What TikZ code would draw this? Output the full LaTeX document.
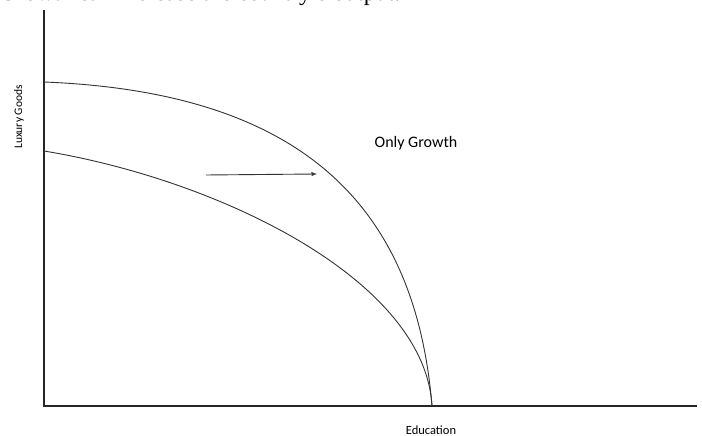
\documentclass[tikz,border=0pt]{standalone}
\usepackage{fontspec}
\setmainfont{Liberation Serif}
\newfontfamily\labelfont{Carlito}
\tikzset{
	axis/.style={draw=black!85,line width=1.3pt},
	ppf/.style={draw=black!80,line width=0.9pt},
	lbl/.style={inner sep=0pt,font=\labelfont\fontsize{12.5}{14}\selectfont}
}
\begin{document}
\begin{tikzpicture}[x=1pt,y=1pt]
			\useasboundingbox (0,0) rectangle (702,436);
			\node[anchor=base west,inner sep=0pt,font=\fontsize{24}{28}\selectfont] at (-1,435.8) (title) {Growth can increase the country's output.};
			% axes
			\coordinate (o) at (44,30);
			\coordinate (ytop) at (44,426);
			\coordinate (xend) at (697,30);
			\draw [axis] (ytop) to (o) to (xend);
			% curves
			\coordinate (a1) at (44,354);
			\coordinate (a2) at (44,285);
			\coordinate (e) at (432,30);
			\draw [ppf] (a1) .. controls (296,344) and (415,236) .. (e);
			\draw [ppf] (a2) .. controls (220,256) and (425,156) .. (e);
			% shift
			\coordinate (s1) at (206,261);
			\coordinate (s2) at (317,262);
			\draw [ppf,->,-latex] (s1) to (s2);
			% labels
			\node[lbl,font=\labelfont\fontsize{16}{18}\selectfont] at (416,293) (growth) {Only Growth};
			\node[lbl,rotate=90,font=\labelfont\fontsize{11.5}{13}\selectfont] at (19,319) (lux) {Luxury Goods};
			\node[lbl] at (431,6) (edu) {Education};
		\end{tikzpicture}
\end{document}
